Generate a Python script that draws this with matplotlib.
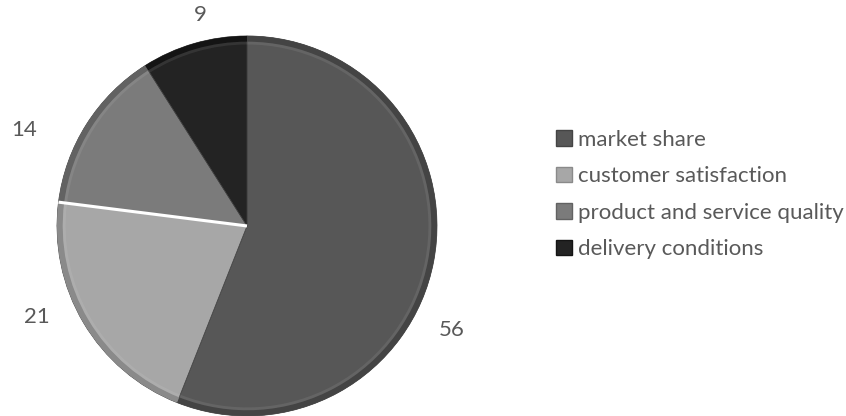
import numpy as np
import matplotlib
matplotlib.use("Agg")
import matplotlib.pyplot as plt
from matplotlib.patches import Wedge, Patch

# -----------------------------------------------------------------------------
# Data
# -----------------------------------------------------------------------------
categories = ["market share", "customer satisfaction",
              "product and service quality", "delivery conditions"]
values = [56, 21, 14, 9]
colors = ["#575757", "#a7a7a7", "#7b7b7b", "#232323"]
rim_colors = ["#444444", "#8a8a8a", "#626262", "#141414"]

# label nudges in points away from the mid-angle spot (style only)
label_nudge = [(-14, -44), (-10, 18), (-22, -19), (12, -6)]

text_color = "#595959"
plt.rcParams["font.family"] = ["Lato", "DejaVu Sans"]

fig = plt.figure(figsize=(8.46, 4.16), dpi=100)
ax = fig.add_axes([0, 0, 494 / 846, 1])

wedges, _ = ax.pie(values, colors=colors, startangle=90, counterclock=False,
                   radius=1.0, center=(0, 0),
                   wedgeprops=dict(linewidth=0.5, edgecolor="#404040"))

# -----------------------------------------------------------------------------
# Fake bevel: darker rim along the outside of every slice, faint light inner rim
# -----------------------------------------------------------------------------
for w, rc in zip(wedges, rim_colors):
    ax.add_patch(Wedge((0, 0), 1.0, w.theta1, w.theta2, width=0.03,
                       facecolor=rc, edgecolor="none", zorder=3))
    ax.add_patch(Wedge((0, 0), 0.97, w.theta1, w.theta2, width=0.015,
                       facecolor="white", alpha=0.08, edgecolor="none", zorder=3))

# highlight on the upper edge of the customer satisfaction slice
w = wedges[1]
t = np.deg2rad(w.theta1)
ax.plot([0, np.cos(t)], [0, np.sin(t)], color="white", lw=2.2,
        solid_capstyle="butt", zorder=4)

# value labels
for w, v, (dx, dy) in zip(wedges, values, label_nudge):
    mid = np.deg2rad((w.theta1 + w.theta2) / 2)
    ax.annotate(str(v), xy=(1.2 * np.cos(mid), 1.2 * np.sin(mid)),
                xytext=(dx, dy), textcoords="offset points",
                ha="center", va="center", fontsize=16, color=text_color,
                annotation_clip=False)

ax.set_xlim(-1.3, 1.3)
ax.set_ylim(-1.0, 1.189)
ax.set_aspect("equal")
ax.axis("off")

handles = [Patch(facecolor=c, edgecolor=r, linewidth=1.0)
           for c, r in zip(colors, rim_colors)]
leg = fig.legend(handles, categories, loc="upper left",
                 bbox_to_anchor=(556 / 846, 1 - 130 / 416),
                 frameon=False, fontsize=16, labelcolor=text_color,
                 handlelength=0.7, handleheight=0.7, handletextpad=0.3,
                 labelspacing=0.74, borderaxespad=0, borderpad=0)

fig.savefig("out.png", dpi=100)
